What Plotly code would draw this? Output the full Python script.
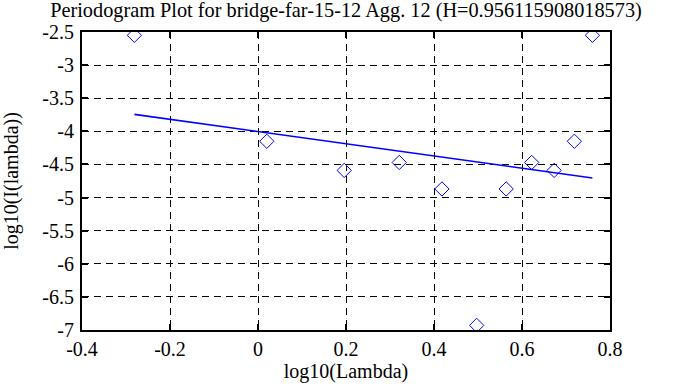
import numpy as np
import plotly.graph_objects as go

# data
log_lambda = [-0.281, 0.020, 0.196, 0.321, 0.418, 0.497, 0.564, 0.622, 0.673, 0.719, 0.760]
log_I = [-2.55, -4.15, -4.59, -4.47, -4.87, -6.93, -4.87, -4.47, -4.59, -4.15, -2.55]
x_ticks = [-0.4, -0.2, 0, 0.2, 0.4, 0.6, 0.8]
x_tick_text = ["-0.4", "-0.2", "0", "0.2", "0.4", "0.6", "0.8"]
y_ticks = [-7, -6.5, -6, -5.5, -5, -4.5, -4, -3.5, -3, -2.5]
y_tick_text = ["-7", "-6.5", "-6", "-5.5", "-5", "-4.5", "-4", "-3.5", "-3", "-2.5"]
title = "Periodogram Plot for bridge-far-15-12 Agg. 12 (H=0.956115908018573)"

slope, intercept = np.polyfit(log_lambda, log_I, 1)
fit_x = [min(log_lambda), max(log_lambda)]
fit_y = [slope * v + intercept for v in fit_x]

font = "Liberation Serif, Times New Roman, serif"
FS = 20

fig = go.Figure()
fig.add_trace(go.Scatter(x=log_lambda, y=log_I, mode="markers",
                         marker=dict(symbol="diamond-open", size=11, color="#0000ff",
                                     line=dict(width=1, color="#0000ff")),
                         showlegend=False))
fig.add_trace(go.Scatter(x=fit_x, y=fit_y, mode="lines",
                         line=dict(color="#0000ff", width=1.6), showlegend=False))

axis_common = dict(showline=True, linewidth=2, linecolor="black", mirror="ticks",
                   ticks="inside", ticklen=6, tickwidth=2, tickcolor="black",
                   showgrid=True, gridcolor="black", gridwidth=1, griddash="7px,5px",
                   zeroline=False, automargin=False,
                   tickfont=dict(family=font, size=FS, color="black"))

fig.update_xaxes(range=[-0.4, 0.8], tickvals=x_ticks, ticktext=x_tick_text,
                 title=dict(text="log10(Lambda)", font=dict(family=font, size=FS, color="black"),
                            standoff=4),
                 **axis_common)
fig.update_yaxes(range=[-7, -2.5], tickvals=y_ticks, ticktext=y_tick_text,
                 ticklabelstandoff=2,
                 title=dict(text="log10(I(lambda))", font=dict(family=font, size=FS, color="black"),
                            standoff=33),
                 **axis_common)

fig.update_layout(
    width=688, height=387,
    margin=dict(l=82, r=78, t=32, b=57),
    paper_bgcolor="white", plot_bgcolor="white",
    hovermode=False,
    title=dict(text=title, x=0.5, xanchor="center", xref="paper",
               y=1 - 10 / 387, yref="container", yanchor="middle",
               font=dict(family=font, size=20.3, color="black")),
)

# remove the browser's default 8px body margin so the figure fills the window
fig.write_html("out.html", config={"displayModeBar": False, "staticPlot": True},
               post_script="document.body.style.margin='0';")
